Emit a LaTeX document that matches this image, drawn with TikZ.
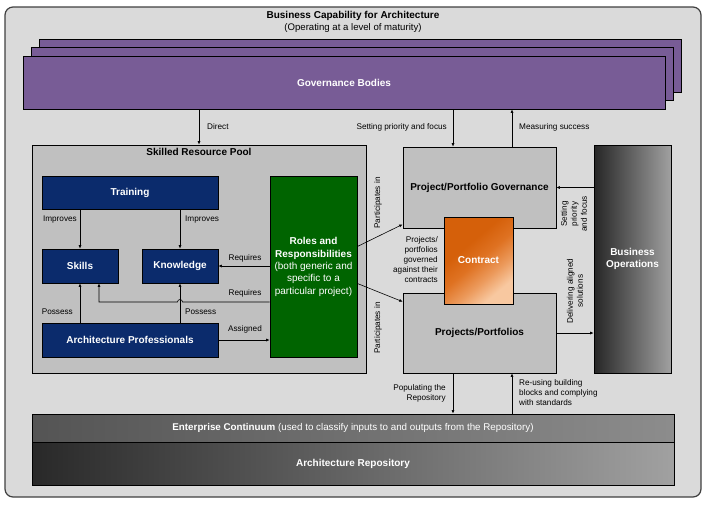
\documentclass[tikz,border=0pt]{standalone}
\usepackage{fontspec}
\setmainfont{Liberation Sans}
\usetikzlibrary{arrows.meta}
\definecolor{outerfill}{HTML}{DADADA}
\definecolor{outerline}{HTML}{404040}
\definecolor{boxgray}{HTML}{C0C0C0}
\definecolor{navy}{HTML}{0B2B6C}
\definecolor{rolesgreen}{HTML}{006400}
\definecolor{purp}{HTML}{785C96}
\definecolor{orgdark}{HTML}{D5600A}
\definecolor{orgmid}{HTML}{DF7222}
\definecolor{orgpale}{HTML}{EC9A5C}
\definecolor{orglight}{HTML}{F8C8A0}
\pgfdeclareverticalshading{contractshade}{100bp}{color(0bp)=(orglight); color(27bp)=(orglight); color(38bp)=(orgpale); color(50bp)=(orgmid); color(62bp)=(orgdark); color(100bp)=(orgdark)}
\tikzset{
  boldlbl/.style={font=\bfseries\fontsize{10}{12.3}\selectfont},
  small/.style={font=\fontsize{8.2}{10}\selectfont, inner sep=0pt},
  navybox/.style={draw=black, line width=0.7pt, fill=navy, text=white, boldlbl},
  graybox/.style={draw=black, line width=0.7pt, fill=boxgray, boldlbl},
  govbox/.style={draw=black, line width=0.7pt, fill=purp, minimum width=642, minimum height=53},
  arr/.style={-{Latex[length=3.5pt,width=3pt]}, line width=0.6pt},
}
\begin{document}
\begin{tikzpicture}[x=1pt,y=-1pt]
\useasboundingbox (0,0) rectangle (709,507);
% outer container
\node[draw=outerline, line width=1.2pt, fill=outerfill, rounded corners=8pt,
      minimum width=696, minimum height=490] (cap) at (353,252) {};
\node[boldlbl, align=center, inner sep=0pt] (captitle) at (353,21.5)
  {Business Capability for Architecture\\[-0.5pt]{\mdseries\fontsize{9.6}{11}\selectfont (Operating at a level of maturity)}};
% governance stack
\node[govbox] (govback) at (360,65.5) {};
\node[govbox] (govmid) at (352,74) {};
\node[govbox, text=white, boldlbl] (gov) at (344,82.5) {Governance Bodies};
% skilled resource pool
\node[draw=black, line width=0.7pt, fill=boxgray, minimum width=334, minimum height=228] (pool) at (199,259) {};
\node[boldlbl, anchor=north, inner sep=0pt] (pooltitle) at (199,148) {Skilled Resource Pool};
\node[navybox, minimum width=176, minimum height=33] (training) at (130,192.5) {Training};
\node[navybox, minimum width=76, minimum height=34] (skills) at (80,266) {Skills};
\node[navybox, minimum width=76, minimum height=34] (knowledge) at (180,266) {Knowledge};
\node[navybox, minimum width=176, minimum height=34] (archprof) at (130,340) {Architecture Professionals};
\node[draw=black, line width=0.7pt, fill=rolesgreen, text=white, minimum width=87, minimum height=181,
      align=center, font=\fontsize{10}{12.4}\selectfont, inner sep=0pt] (roles) at (313.5,267)
  {\textbf{Roles and}\\\textbf{Responsibilities}\\(both generic and\\specific to a\\particular project)};
% right side
\node[graybox, minimum width=153, minimum height=81] (ppg) at (479.5,187.5) {Project/Portfolio Governance};
\node[graybox, minimum width=153, minimum height=80] (pp) at (479.5,333) {Projects/Portfolios};
\node[draw=black, line width=0.7pt, shading=contractshade, shading angle=40,
      minimum width=69, minimum height=87, text=white, boldlbl] (contract) at (478.5,260.5) {Contract};
\node[draw=black, line width=0.7pt, left color=black!85, right color=black!37, minimum width=77, minimum height=228,
      text=white, boldlbl, align=center] (busops) at (632.5,259) {Business\\Operations};
% bottom bands
\node[draw=black, line width=0.9pt, left color=black!67, right color=black!45, minimum width=642, minimum height=28,
      text=white, font=\fontsize{9.8}{11}\selectfont] (ec) at (353,428)
  {\textbf{Enterprise Continuum} (used to classify inputs to and outputs from the Repository)};
\node[draw=black, line width=0.9pt, left color=black!84, right color=black!37, minimum width=642, minimum height=43,
      text=white, boldlbl] (repo) at (353,463.5) {Architecture Repository};
% helper coordinates
\coordinate (xa) at (453,0);
\coordinate (xb) at (512,0);
% top connectors
\draw[arr] (pool.north |- gov.south) -- (pool.north);
\node[small, anchor=west] (ldirect) at (207,127) {Direct};
\draw[arr] (xa |- gov.south) -- (xa |- ppg.north);
\node[small, anchor=east] (lsetting) at (447,127) {Setting priority and focus};
\draw[arr] (xb |- ppg.north) -- (xb |- gov.south);
\node[small, anchor=west] (lmeasure) at (519,127) {Measuring success};
% pool connectors
\draw[arr] (training.south -| skills.north) -- (skills.north);
\node[small, anchor=east] (limp1) at (77,220) {Improves};
\draw[arr] (training.south -| knowledge.north) -- (knowledge.north);
\node[small, anchor=west] (limp2) at (185,220) {Improves};
\draw[arr] (roles.west |- knowledge.east) -- (knowledge.east);
\node[small] (lreq1) at (245,258) {Requires};
\coordinate (hop) at (180,302);
\coordinate (skx) at (99,0);
\draw[arr] (roles.west |- hop) -- ([xshift=2.5pt]hop) arc[start angle=0, end angle=-180, radius=2.5] -- (skx |- hop) -- (skx |- skills.south);
\node[small] (lreq2) at (245,293) {Requires};
\draw[arr] (archprof.north -| skills.south) -- (skills.south);
\node[small, anchor=east] (lpos1) at (73,312) {Possess};
\draw[arr] (archprof.north -| knowledge.south) -- (knowledge.south);
\node[small, anchor=west] (lpos2) at (185,312) {Possess};
\draw[arr] (archprof.east) -- (archprof.east -| roles.west);
\node[small] (lassign) at (245,329) {Assigned};
% roles to projects
\draw[arr] ([yshift=20.5pt]roles.east) -- ([yshift=4pt]ppg.south west);
\draw[arr] ([yshift=-16.5pt]roles.east) -- ([yshift=-9pt]pp.north west);
\node[small, rotate=90] (lpart1) at (378,203) {Participates in};
\node[small, rotate=90] (lpart2) at (378,328) {Participates in};
\node[small, anchor=east, align=right] (lcontract) at (438,260)
  {Projects/\\portfolios\\governed\\against their\\contracts};
% business operations
\draw[arr] (busops.west |- ppg.east) -- (ppg.east);
\node[small, rotate=90, align=center] (lsetbo) at (574,214) {Setting\\priority\\and focus};
\draw[arr] (pp.east) -- (pp.east -| busops.west);
\node[small, rotate=90, align=center] (ldeliv) at (575,291) {Delivering aligned\\solutions};
% bottom connectors
\draw[arr] (xa |- pp.south) -- (xa |- ec.north);
\node[small, anchor=east, align=right] (lpop) at (446,393) {Populating the\\Repository};
\draw[arr] (xb |- ec.north) -- (xb |- pp.south);
\node[small, anchor=west, align=left] (lreuse) at (519,393) {Re-using building\\blocks and complying\\with standards};
\end{tikzpicture}
\end{document}
